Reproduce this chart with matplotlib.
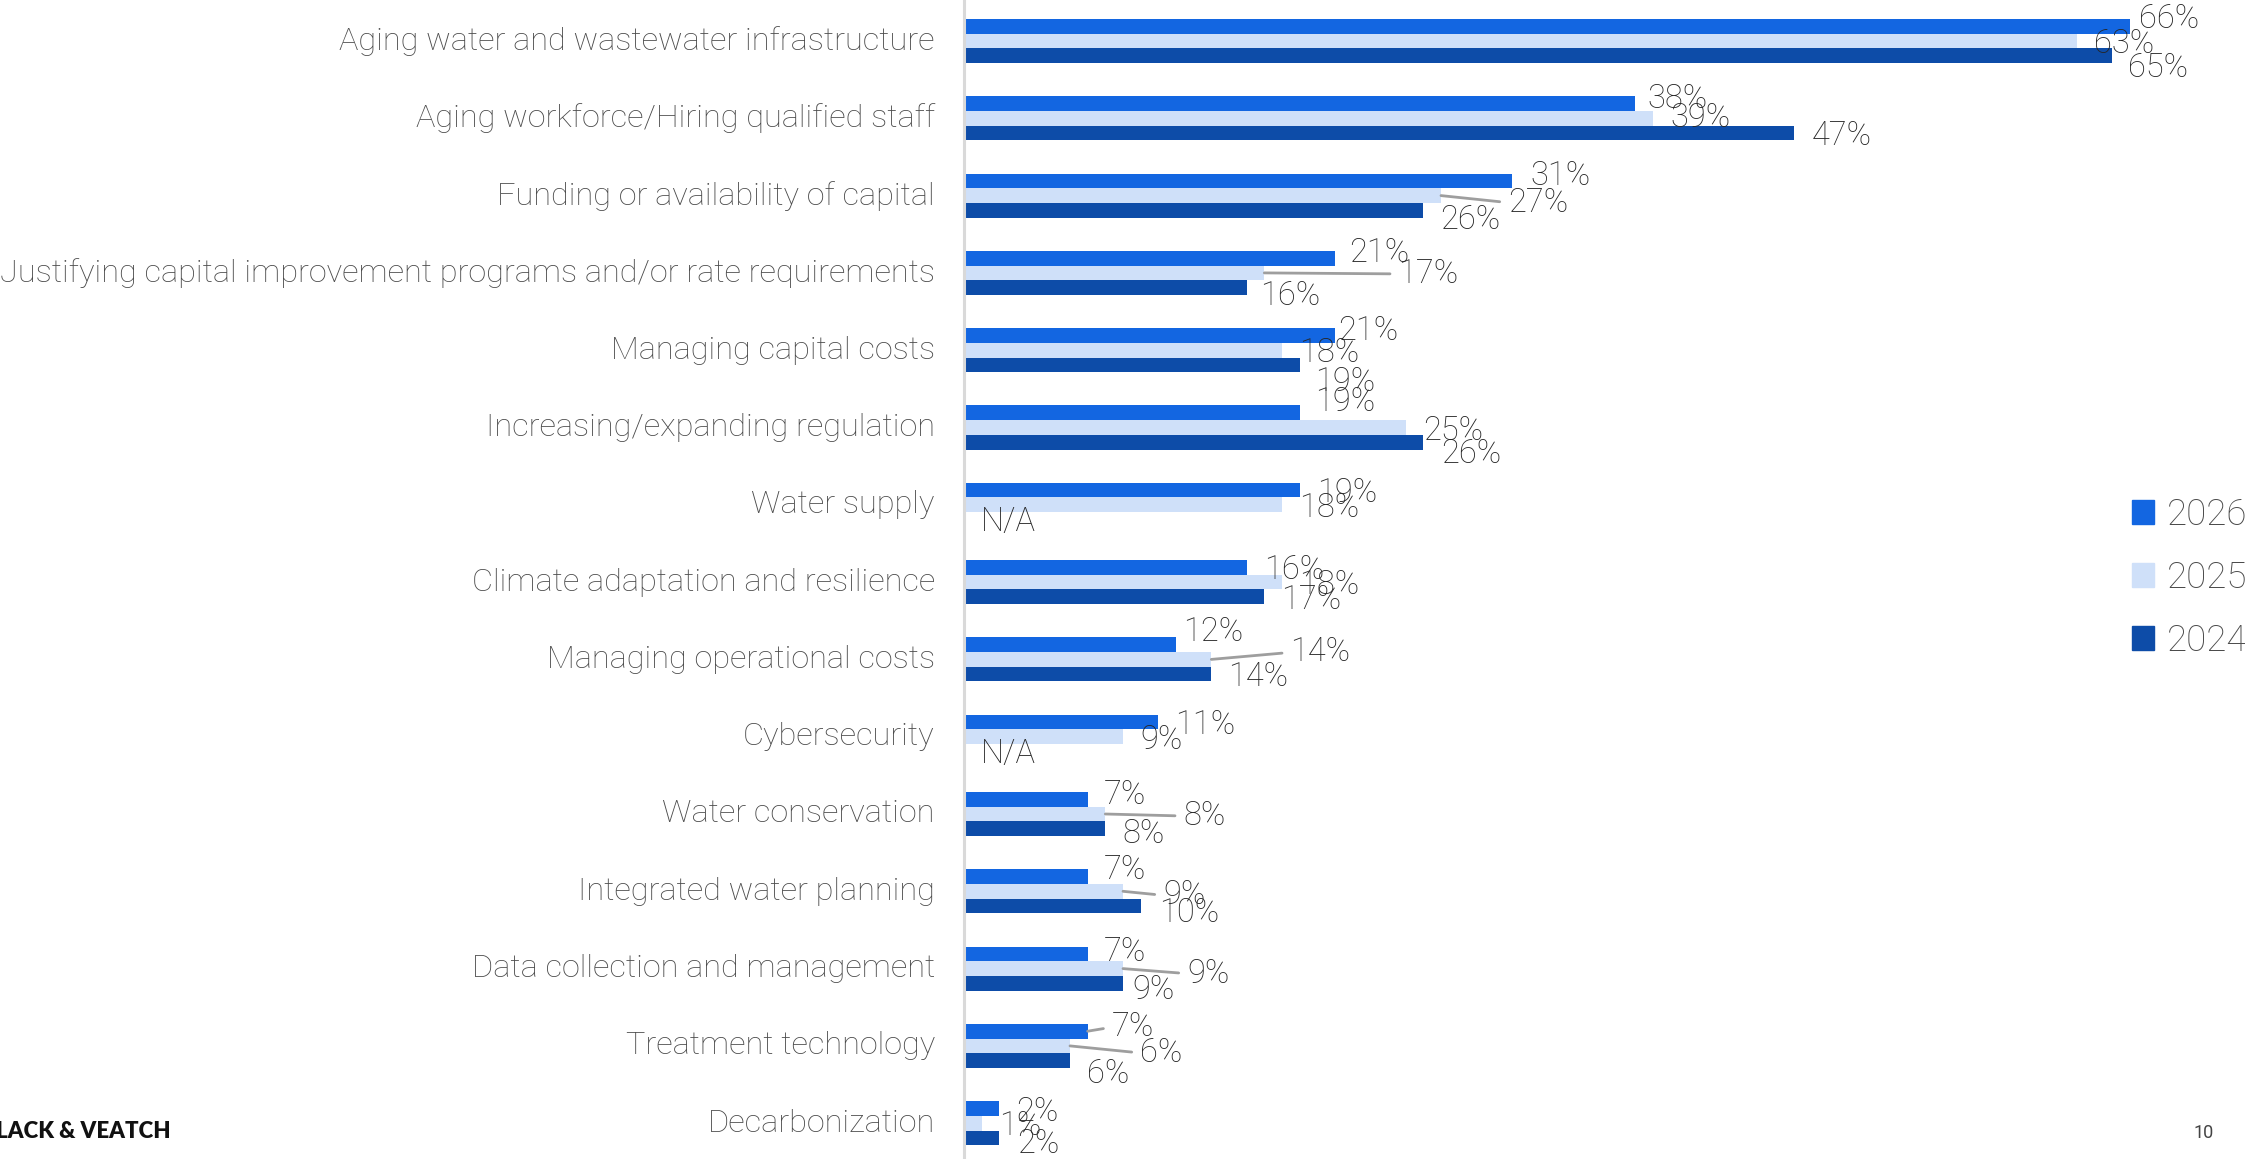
import numpy as np
import matplotlib.pyplot as plt
from matplotlib.patches import Patch

plt.rcParams['font.family'] = ['Roboto', 'DejaVu Sans']

categories = [
    "Aging water and wastewater infrastructure",
    "Aging workforce/Hiring qualified staff",
    "Funding or availability of capital",
    "Justifying capital improvement programs and/or rate requirements",
    "Managing capital costs",
    "Increasing/expanding regulation",
    "Water supply",
    "Climate adaptation and resilience",
    "Managing operational costs",
    "Cybersecurity",
    "Water conservation",
    "Integrated water planning",
    "Data collection and management",
    "Treatment technology",
    "Decarbonization",
]
years = ["2026", "2025", "2024"]
vals_2026 = [66, 38, 31, 21, 21, 19, 19, 16, 12, 11, 7, 7, 7, 7, 2]
vals_2025 = [63, 39, 27, 17, 18, 25, 18, 18, 14, 9, 8, 9, 9, 6, 1]
vals_2024 = [65, 47, 26, 16, 19, 26, None, 17, 14, None, 8, 10, 9, 6, 2]

colors = ["#1366e1", "#cfe0f9", "#0d4ca8"]

# label nudges in pixels: (row, series) -> (dx from bar end, dy down, leader line)
label_nudge = {
    (0, 0): (9, -10, False), (0, 2): (16, 9, False),
    (1, 0): (12, -8, False), (1, 1): (17, -3, False),
    (2, 0): (19, -8, False), (2, 1): (67, 4, True), (2, 2): (17, 7, False),
    (3, 0): (14, -8, False), (3, 1): (134, -2, True), (3, 2): (13, 5, False),
    (4, 0): (3, -8, False), (4, 2): (15, 14, False),
    (5, 0): (15, -14, False), (5, 2): (18, 9, False),
    (8, 0): (7, -16, False), (8, 1): (79, -10, True),
    (10, 0): (16, -7, False), (10, 1): (78, -1, True), (10, 2): (17, 2, False),
    (11, 0): (16, -10, False), (11, 1): (40, 1, True), (11, 2): (18, 4, False),
    (12, 0): (16, -5, False), (12, 1): (64, 2, True), (12, 2): (9, 4, False),
    (13, 0): (24, -7, True), (13, 1): (70, 4, True), (13, 2): (17, 10, False),
    (14, 2): (18, 3, False),
}

W, H = 2245, 1159
fig = plt.figure(figsize=(W / 100, H / 100), dpi=100)
ax = fig.add_axes([964 / W, 0, 1272 / W, 1])

series = [vals_2026, vals_2025, vals_2024]
y = np.arange(len(categories))
bar_h = 0.19
offsets = [-bar_h, 0, bar_h]

for k, vals in enumerate(series):
    v = np.array([np.nan if a is None else a for a in vals], dtype=float)
    ax.barh(y + offsets[k], np.nan_to_num(v), height=bar_h, color=colors[k],
            label=years[k])
    for i, val in enumerate(vals):
        dx, dy, leader = label_nudge.get((i, k), (17, 0, False))
        txt = "N/A" if val is None else f"{val}%"
        xv = 0 if val is None else val
        props = None
        if leader:
            props = dict(arrowstyle="-", color="#9e9e9e", lw=2,
                         relpos=(0, 0.5), shrinkA=4, shrinkB=0)
        ax.annotate(txt, xy=(xv, y[i] + offsets[k]), xytext=(dx, -dy - 3),
                    textcoords="offset pixels", ha="left", va="center",
                    fontsize=23.5, fontweight="light", color="#262626",
                    arrowprops=props)

ax.set_xlim(0, 72)
ax.set_ylim((H - 41) / 77.3, -41 / 77.3)
ax.set_yticks(y)
ax.set_yticklabels(categories, fontsize=23.4, fontweight="light", color="#4a4a4a")
for lbl in ax.get_yticklabels():
    lbl.set_va("center")
ax.tick_params(axis="y", length=0, pad=21)
ax.set_xticks([])
for s in ["top", "right", "bottom"]:
    ax.spines[s].set_visible(False)
ax.spines["left"].set_color("#d9d9d9")
ax.spines["left"].set_linewidth(2.2)

handles = [Patch(color=c) for c in colors]
fig.legend(handles, years, loc="center left",
           bbox_to_anchor=(2132 / W, 1 - 578 / H), frameon=False,
           prop=dict(family="Roboto", weight="light", size=26.5),
           labelcolor="#4a4a4a", handlelength=0.6, handleheight=0.6,
           handletextpad=0.35, labelspacing=0.73, borderpad=0, borderaxespad=0)

fig.text(171 / W, 1 - 1132 / H, "BLACK & VEATCH", ha="right", va="center",
         fontsize=16, fontweight="heavy", color="#111111",
         family=["Lato", "DejaVu Sans"])
fig.text(2204 / W, 1 - 1133 / H, "10", ha="center", va="center",
         fontsize=13, color="#444444")

fig.savefig("out.png", dpi=100)
